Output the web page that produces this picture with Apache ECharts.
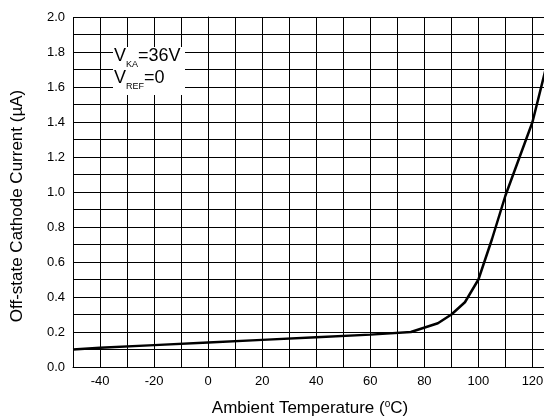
<!DOCTYPE html>
<html>
<head>
<meta charset="utf-8">
<script src="https://cdn.jsdelivr.net/npm/echarts@6/dist/echarts.min.js"></script>
<style>html,body{margin:0;padding:0;background:#fff;overflow:hidden}#c{width:544px;height:419px}</style>
</head>
<body>
<div id="c"></div>
<script>
var temps = [-50, -40, -20, 0, 20, 40, 60, 75, 85, 90, 95, 100, 105, 110, 115, 120, 125];
var current = [0.10, 0.11, 0.125, 0.14, 0.155, 0.17, 0.185, 0.20, 0.25, 0.30, 0.37, 0.50, 0.73, 0.98, 1.19, 1.40, 1.71];
var xTickLabels = ['-40', '-20', '0', '20', '40', '60', '80', '100', '120'];
var yTickLabels = ['0.0', '0.2', '0.4', '0.6', '0.8', '1.0', '1.2', '1.4', '1.6', '1.8', '2.0'];

var FONT = '"Liberation Sans", Arial, sans-serif';
var chart = echarts.init(document.getElementById('c'), null, {renderer: 'canvas'});
var data = temps.map(function (t, i) { return [t, current[i]]; });

chart.setOption({
  animation: false,
  backgroundColor: '#fff',
  grid: {left: 73, width: 473, top: 17, bottom: 52, containLabel: false, outerBoundsMode: 'none'},
  xAxis: {
    type: 'value', min: -50, max: 125, interval: 10,
    axisLine: {show: true, onZero: false, lineStyle: {color: '#000', width: 1}},
    axisTick: {show: false},
    splitLine: {show: true, lineStyle: {color: '#000', width: 1}},
    axisLabel: {
      color: '#000', fontFamily: FONT, fontSize: 13, margin: 8,
      formatter: function (v) {
        var s = String(Math.round(v));
        return xTickLabels.indexOf(s) >= 0 ? s : '';
      }
    }
  },
  yAxis: {
    type: 'value', min: 0, max: 2.0, interval: 0.2,
    axisLine: {show: true, lineStyle: {color: '#000', width: 1}},
    axisTick: {show: true, length: 5, lineStyle: {color: '#000'}},
    minorTick: {show: false, splitNumber: 2},
    splitLine: {show: true, lineStyle: {color: '#000', width: 1}},
    minorSplitLine: {show: true, lineStyle: {color: '#000', width: 1}},
    axisLabel: {
      color: '#000', fontFamily: FONT, fontSize: 13, margin: 8,
      formatter: function (v) {
        var idx = Math.round(v * 5);
        return yTickLabels[idx] || '';
      }
    }
  },
  series: [{
    type: 'line', data: data, showSymbol: false, symbol: 'none',
    lineStyle: {color: '#000', width: 2.5}, z: 5
  }],
  graphic: [
    {
      type: 'rect', left: 113, top: 47, z: 10,
      shape: {width: 72, height: 48}, style: {fill: '#fff'}
    },
    {
      type: 'text', left: 114, top: 47, z: 11,
      style: {
        text: '{v|V}{s|KA}{v|=36V}\n{v|V}{s|REF}{v|=0}',
        rich: {
          v: {fontFamily: FONT, fontSize: 18, color: '#000', verticalAlign: 'bottom', padding: [0, 0, 4, 0], lineHeight: 22},
          s: {fontFamily: FONT, fontSize: 9, color: '#000', verticalAlign: 'bottom', lineHeight: 22}
        }
      }
    },
    {
      type: 'text', x: 17, y: 206, rotation: Math.PI / 2, z: 11,
      style: {
        text: 'Off-state Cathode Current (\u00b5A)',
        fontFamily: FONT, fontSize: 17, fill: '#000', align: 'center', verticalAlign: 'middle'
      }
    },
    {
      type: 'text', x: 310, y: 408, z: 11,
      style: {
        text: '{n|Ambient Temperature (}{p|o}{n|C)}',
        align: 'center', verticalAlign: 'middle',
        rich: {
          n: {fontFamily: FONT, fontSize: 17, color: '#000', verticalAlign: 'bottom'},
          p: {fontFamily: FONT, fontSize: 10, color: '#000', verticalAlign: 'top'}
        }
      }
    }
  ]
});
</script>
</body>
</html>
